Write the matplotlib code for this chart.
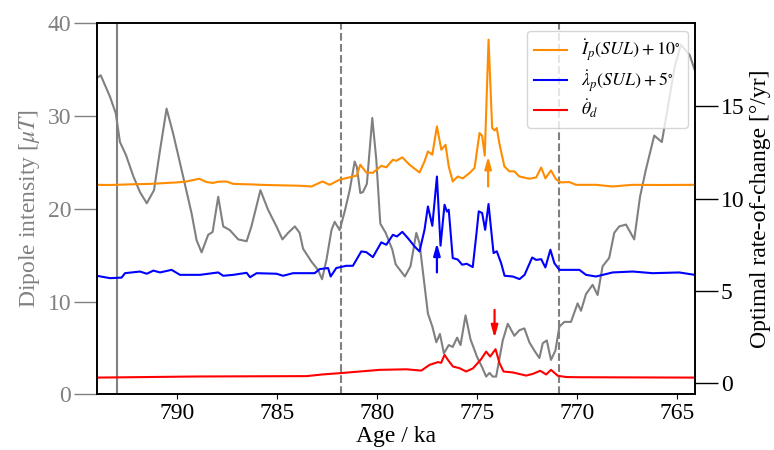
import matplotlib
matplotlib.use('Agg')
import matplotlib.pyplot as plt

plt.rcParams['font.family'] = ['Liberation Serif', 'DejaVu Serif']
plt.rcParams['mathtext.fontset'] = 'stix'

# dipole intensity (left axis)
age_dip = [794.0, 793.8, 793.34, 793.05, 792.84, 792.54, 792.17, 791.84, 791.5, 791.14,
           790.84, 790.51, 790.18, 789.76, 789.26, 789.01, 788.76, 788.43, 788.21, 787.93,
           787.68, 787.35, 786.93, 786.51, 786.27, 785.82, 785.44, 785.02, 784.72, 784.44,
           784.1, 783.86, 783.69, 783.27, 782.94, 782.74, 782.52, 782.27, 782.11, 781.86,
           781.61, 781.36, 781.11, 781.0, 780.83, 780.7, 780.5, 780.23, 780.03, 779.83,
           779.56, 779.23, 779.06, 778.6, 778.32, 778.03, 777.87, 777.65, 777.45, 777.23,
           777.03, 776.85, 776.65, 776.41, 776.21, 775.99, 775.82, 775.57, 775.32, 774.99,
           774.74, 774.54, 774.37, 774.21, 774.04, 773.71, 773.46, 773.13, 772.88, 772.63,
           772.38, 772.13, 771.88, 771.71, 771.51, 771.3, 771.08, 770.88, 770.63, 770.3,
           769.97, 769.8, 769.55, 769.22, 768.97, 768.72, 768.39, 768.14, 767.89, 767.55,
           767.14, 766.85, 766.56, 766.14, 765.76, 765.48, 765.12, 764.81, 764.37, 764.12]
dipole = [34.1, 34.4, 32.1, 30.3, 27.2, 25.8, 23.5, 21.8, 20.6, 22.0,
          26.3, 30.8, 28.1, 24.2, 19.5, 16.6, 15.3, 17.2, 17.5, 21.3,
          18.1, 17.7, 16.7, 16.5, 18.1, 22.0, 19.9, 18.1, 16.7, 17.4,
          18.1, 17.4, 15.7, 14.3, 13.4, 12.4, 14.5, 17.7, 18.6, 17.7,
          19.7, 22.0, 25.1, 24.5, 21.7, 21.8, 22.7, 29.8, 25.3, 18.4,
          17.4, 15.6, 14.0, 12.7, 13.8, 17.4, 16.3, 12.3, 8.7, 7.3,
          5.6, 6.5, 4.4, 5.3, 5.1, 6.1, 5.3, 8.5, 5.9, 4.0,
          2.9, 1.9, 2.3, 1.9, 1.9, 5.8, 7.6, 6.3, 6.9, 7.1,
          5.6, 4.7, 3.9, 5.5, 5.8, 3.7, 4.7, 7.3, 7.8, 7.8,
          9.8, 9.0, 10.8, 11.8, 10.7, 13.8, 14.7, 17.4, 18.1, 18.3,
          16.7, 21.3, 24.2, 27.9, 27.2, 30.7, 35.3, 37.7, 36.6, 35.0]

# rate of change of inclination (offset +10)
age_inc = [794.0, 793.34, 792.19, 791.34, 790.01, 789.51, 788.88, 788.51, 788.2, 787.93,
           787.51, 787.18, 786.51, 785.52, 783.86, 783.27, 782.72, 782.36, 781.86, 781.2,
           781.01, 780.83, 780.53, 780.2, 779.78, 779.53, 779.2, 779.03, 778.73, 778.37,
           777.87, 777.62, 777.45, 777.23, 777.0, 776.78, 776.57, 776.41, 776.21, 775.96,
           775.71, 775.37, 775.12, 774.87, 774.74, 774.61, 774.42, 774.24, 774.12, 774.01,
           773.88, 773.63, 773.38, 773.13, 772.88, 772.38, 772.04, 771.79, 771.58, 771.3,
           771.05, 770.8, 770.38, 770.05, 769.05, 768.22, 767.22, 765.89, 764.12]
inc_rate = [10.75, 10.74, 10.78, 10.8, 10.88, 10.93, 11.08, 10.9, 10.85, 10.92,
            10.93, 10.8, 10.78, 10.74, 10.7, 10.66, 10.93, 10.75, 11.03, 11.2,
            11.25, 11.84, 11.42, 11.4, 11.78, 11.7, 12.11, 12.05, 12.24, 11.84,
            11.42, 12.02, 12.56, 12.38, 13.92, 12.65, 12.92, 11.75, 10.93, 11.2,
            11.1, 11.39, 11.66, 13.56, 13.4, 12.33, 18.62, 13.83, 13.7, 13.83,
            13.0, 11.75, 11.48, 11.48, 11.2, 11.08, 11.15, 11.69, 11.1, 11.53,
            11.05, 10.88, 10.9, 10.75, 10.75, 10.66, 10.75, 10.74, 10.75]

# rate of change of latitude (offset +5)
age_lat = [794.0, 793.34, 792.76, 792.59, 791.84, 791.5, 791.17, 790.84, 790.26, 789.84,
           788.84, 787.93, 787.68, 787.18, 786.51, 786.34, 786.01, 785.02, 784.69, 784.19,
           783.11, 782.86, 782.44, 782.31, 782.03, 781.53, 781.2, 780.78, 780.53, 780.2,
           779.78, 779.53, 779.2, 779.0, 778.73, 778.45, 778.12, 777.87, 777.62, 777.45,
           777.23, 777.0, 776.82, 776.62, 776.5, 776.41, 776.21, 775.96, 775.74, 775.51,
           775.21, 775.04, 774.91, 774.74, 774.59, 774.42, 774.29, 774.17, 774.01, 773.79,
           773.62, 773.21, 772.87, 772.62, 772.24, 772.04, 771.79, 771.58, 771.33, 771.13,
           770.88, 770.38, 769.88, 769.55, 769.05, 768.22, 767.22, 766.22, 764.89, 764.12]
lat_rate = [5.82, 5.69, 5.72, 5.96, 6.05, 5.93, 6.1, 6.0, 6.14, 5.87,
            5.87, 6.0, 5.82, 5.87, 5.98, 5.74, 5.96, 5.93, 5.82, 5.96,
            5.96, 6.18, 6.24, 5.78, 6.24, 6.36, 6.36, 7.14, 7.1, 6.83,
            7.63, 7.5, 8.04, 7.95, 8.2, 7.86, 7.41, 7.14, 8.31, 9.58,
            8.53, 11.2, 7.45, 9.67, 9.3, 9.4, 6.78, 6.7, 6.42, 6.47,
            6.29, 7.95, 9.31, 9.22, 8.31, 9.71, 8.31, 7.05, 7.15, 6.5,
            5.82, 5.78, 5.64, 5.87, 6.81, 6.68, 6.72, 6.27, 7.23, 6.5,
            6.14, 6.14, 6.14, 5.87, 5.78, 6.0, 6.05, 5.96, 6.0, 5.87]

# rate of change of dipole tilt
age_tilt = [794.0, 789.0, 783.51, 782.72, 781.86, 780.86, 779.86, 778.53, 777.78, 777.37,
            776.95, 776.79, 776.62, 776.45, 776.2, 775.87, 775.54, 775.2, 774.79, 774.54,
            774.34, 774.07, 773.87, 773.67, 773.21, 772.54, 772.21, 771.84, 771.54, 771.3,
            770.96, 770.54, 769.88, 764.12]
tilt_rate = [0.3, 0.36, 0.38, 0.47, 0.54, 0.63, 0.72, 0.75, 0.68, 0.99,
             1.14, 1.1, 1.53, 1.26, 0.9, 0.81, 0.63, 0.8, 1.3, 1.71,
             1.44, 1.84, 1.08, 0.63, 0.58, 0.41, 0.5, 0.67, 0.47, 0.72,
             0.4, 0.33, 0.32, 0.3]

solid_line = 793.0
dashed_lines = [781.8, 770.9]
# arrows: (age, tail, head, colour)
arrows = [(774.44, 10.66, 12.3, 'darkorange'),
          (777.0, 6.0, 7.6, 'blue'),
          (774.12, 3.97, 2.45, 'red')]

fig, ax = plt.subplots(figsize=(7.74, 4.5), dpi=100)
fig.subplots_adjust(left=0.125, right=0.898, bottom=0.124, top=0.948)

ax.plot(age_dip, dipole, color='grey', lw=1.5)
ax.axvline(solid_line, color='grey', lw=1.5)
for d in dashed_lines:
    ax.axvline(d, color='grey', lw=1.5, ls='--')
ax.set_xlim(794, 764.1)
ax.set_ylim(0, 40)
ax.set_yticks([0, 10, 20, 30, 40])
ax.set_xticks([790, 785, 780, 775, 770, 765])
ax.set_xlabel('Age / ka', fontsize=17, labelpad=1)
ax.set_ylabel(r'Dipole intensity [$\mu T$]', fontsize=17, color='grey', labelpad=4)
ax.tick_params(axis='y', colors='grey', labelsize=17, length=16.5, width=1, pad=2)
ax.tick_params(axis='x', labelsize=17, length=3.5, pad=3)

ax2 = ax.twinx()
ax2.plot(age_inc, inc_rate, color='darkorange', lw=1.5,
         label=r'$\dot{I}_p(SUL)+10^{\circ}$')
ax2.plot(age_lat, lat_rate, color='blue', lw=1.5,
         label=r'$\dot{\lambda}_p(SUL)+5^{\circ}$')
ax2.plot(age_tilt, tilt_rate, color='red', lw=1.5, label=r'$\dot{\theta}_d$')
for a, t, h, c in arrows:
    ax2.annotate('', xy=(a, h), xytext=(a, t),
                 arrowprops=dict(arrowstyle='-|>,head_width=0.25,head_length=0.9',
                                 color=c, lw=1.6, mutation_scale=8,
                                 shrinkA=0, shrinkB=0))
ax2.set_ylim(-0.6, 19.5)
ax2.set_yticks([0, 5, 10, 15])
ax2.set_ylabel('Optimal rate-of-change [°/yr]', fontsize=17, labelpad=4)
ax2.tick_params(axis='y', labelsize=17, length=16.5, width=1, pad=2)
ax2.legend(loc='upper right', fontsize=13, handlelength=1.8, labelspacing=0.25,
           borderaxespad=0.4)

for a in (ax, ax2):
    for s in a.spines.values():
        s.set_linewidth(1.2)

fig.savefig('out.png', dpi=100)
